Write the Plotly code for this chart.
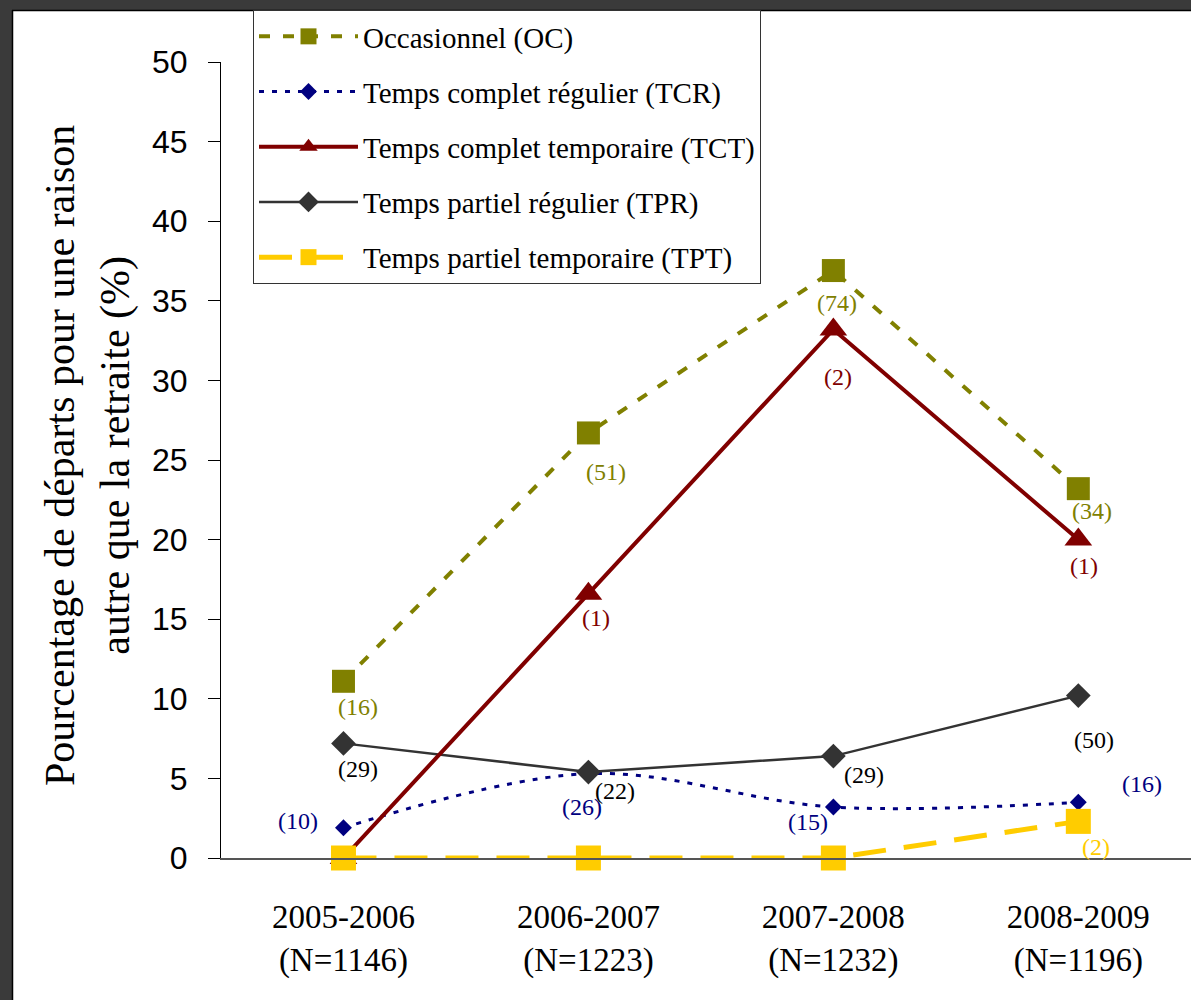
import plotly.graph_objects as go

# ---------------- data ----------------
periods = ["2005-2006", "2006-2007", "2007-2008", "2008-2009"]
n_values = [1146, 1223, 1232, 1196]

oc_values = [11.1, 26.7, 36.9, 23.2]
tcr_values = [1.9, 5.3, 3.2, 3.5]
tct_values = [0.0, 16.6, 33.2, 20.0]
tpr_values = [7.2, 5.4, 6.4, 10.2]
tpt_values = [0.0, 0.0, 0.0, 2.3]

oc_counts = [16, 51, 74, 34]
tcr_counts = [10, 26, 15, 16]
tct_counts = [None, 1, 2, 1]
tpr_counts = [29, 22, 29, 50]
tpt_counts = [None, None, None, 2]

names = {
    "OC": "Occasionnel (OC)",
    "TCR": "Temps complet régulier (TCR)",
    "TCT": "Temps complet temporaire (TCT)",
    "TPR": "Temps partiel régulier (TPR)",
    "TPT": "Temps partiel temporaire (TPT)",
}

tick_labels = [f"{p}<br>(N={n})" for p, n in zip(periods, n_values)]

# ---------------- styles ----------------
SERIF = "Liberation Serif, Times New Roman, serif"
SANS = "Liberation Sans, Arial, sans-serif"

C_OC = "#808000"
C_TCR = "#000080"
C_TCT = "#800000"
C_TPR = "#333333"
C_TPT = "#FFCC00"

# label offsets in pixels (dx right, dy down) per series/point
off_oc = [(15, 26), (18, 39), (4, 32), (14, 22)]
off_tcr = [(-45, -7), (-6, 33), (-25, 15), (64, -18)]
off_tct = [(0, 0), (8, 24), (5, 48), (6, 26)]
off_tpr = [(15, 26), (27, 19), (31, 19), (16, 44)]
off_tpt = [(0, 0), (0, 0), (0, 0), (18, 26)]

fig = go.Figure()

# draw order: TCR, TPR, OC, TCT, TPT (legend order via legendrank)
fig.add_trace(go.Scatter(
    x=periods, y=tcr_values, name=names["TCR"], legendrank=2, legendgroup="b",
    mode="lines+markers", cliponaxis=False,
    line=dict(color=C_TCR, width=3, dash="5px,8px", shape="spline", smoothing=1),
    marker=dict(symbol="diamond", size=13, color=C_TCR),
))
fig.add_trace(go.Scatter(
    x=periods, y=tpr_values, name=names["TPR"], legendrank=4, legendgroup="d",
    mode="lines+markers", cliponaxis=False,
    line=dict(color=C_TPR, width=2.5),
    marker=dict(symbol="diamond", size=19, color=C_TPR),
))
fig.add_trace(go.Scatter(
    x=periods, y=oc_values, name=names["OC"], legendrank=1, legendgroup="a",
    mode="lines+markers", cliponaxis=False,
    line=dict(color=C_OC, width=4, dash="11px,13px"),
    marker=dict(symbol="square", size=23, color=C_OC),
))
fig.add_trace(go.Scatter(
    x=periods, y=tct_values, name=names["TCT"], legendrank=3, legendgroup="c",
    mode="lines+markers", cliponaxis=False,
    line=dict(color=C_TCT, width=4),
    marker=dict(symbol="triangle-up", size=24, color=C_TCT),
))
fig.add_trace(go.Scatter(
    x=periods, y=tpt_values, name=names["TPT"], legendrank=5, legendgroup="e",
    mode="lines+markers", cliponaxis=False,
    line=dict(color=C_TPT, width=5, dash="33px,18px"),
    marker=dict(symbol="square", size=25, color=C_TPT),
))

annotations = []


def add_labels(values, counts, offsets, color):
    for p, v, c, (dx, dy) in zip(periods, values, counts, offsets):
        if c is None:
            continue
        annotations.append(dict(
            x=p, y=v, xref="x", yref="y", text=f"({c})", showarrow=False,
            xshift=dx, yshift=-dy, xanchor="center", yanchor="middle",
            font=dict(family=SERIF, size=24, color=color),
        ))


add_labels(oc_values, oc_counts, off_oc, C_OC)
add_labels(tct_values, tct_counts, off_tct, C_TCT)
add_labels(tpr_values, tpr_counts, off_tpr, "#000000")
add_labels(tcr_values, tcr_counts, off_tcr, C_TCR)
add_labels(tpt_values, tpt_counts, off_tpt, C_TPT)

# y-axis title
L, R, T, B = 221, 0, 62, 142
W, H = 1191, 1000
PW, PH = W - L - R, H - T - B


def px_x(px):
    return (px - L) / PW


def px_y(py):
    return (H - B - py) / PH


annotations.append(dict(
    x=px_x(88), y=px_y(456), xref="paper", yref="paper",
    text="Pourcentage de départs pour une raison<br>autre que la retraite (%)",
    textangle=-90, showarrow=False, xanchor="center", yanchor="middle",
    font=dict(family=SERIF, size=42, color="#000000"),
))

shapes = [
    dict(type="rect", xref="paper", yref="paper", layer="below",
         x0=px_x(0), x1=px_x(W), y0=px_y(10), y1=px_y(0),
         fillcolor="#3a3a3a", line=dict(width=0)),
    dict(type="rect", xref="paper", yref="paper", layer="below",
         x0=px_x(0), x1=px_x(12), y0=px_y(H), y1=px_y(0),
         fillcolor="#3a3a3a", line=dict(width=0)),
    dict(type="line", xref="paper", yref="paper", layer="below",
         x0=px_x(12), x1=px_x(W), y0=px_y(10.5), y1=px_y(10.5),
         line=dict(color="#000000", width=1.5)),
    dict(type="line", xref="paper", yref="paper", layer="below",
         x0=px_x(12.5), x1=px_x(12.5), y0=px_y(10), y1=px_y(H),
         line=dict(color="#000000", width=1.5)),
]

fig.update_layout(
    width=W, height=H,
    margin=dict(l=L, r=R, t=T, b=B, pad=0),
    paper_bgcolor="white", plot_bgcolor="white",
    showlegend=True,
    legend=dict(
        x=px_x(253), y=px_y(10), xanchor="left", yanchor="top",
        bgcolor="white", bordercolor="#333333", borderwidth=1,
        font=dict(family=SERIF, size=29, color="#000000"),
        tracegroupgap=14.5, itemwidth=99,
    ),
    annotations=annotations,
    shapes=shapes,
    xaxis=dict(
        type="category", categoryorder="array", categoryarray=periods,
        range=[-0.5, 3.46], tickvals=periods, ticktext=tick_labels,
        showline=True, linecolor="#555555", linewidth=2,
        ticks="", showgrid=False, zeroline=False,
        tickfont=dict(family=SERIF, size=33, color="#000000"),
        ticklabelstandoff=28,
    ),
    yaxis=dict(
        range=[0, 50], dtick=5, tick0=0,
        showline=True, linecolor="#000000", linewidth=1,
        ticks="outside", ticklen=12, tickcolor="#000000", tickwidth=1,
        showgrid=False, zeroline=False,
        tickfont=dict(family=SANS, size=32, color="#000000"),
        ticklabelstandoff=14,
    ),
)

fig.write_html("out.html", config={"displayModeBar": False},
               post_script="document.body.style.margin='0';")
